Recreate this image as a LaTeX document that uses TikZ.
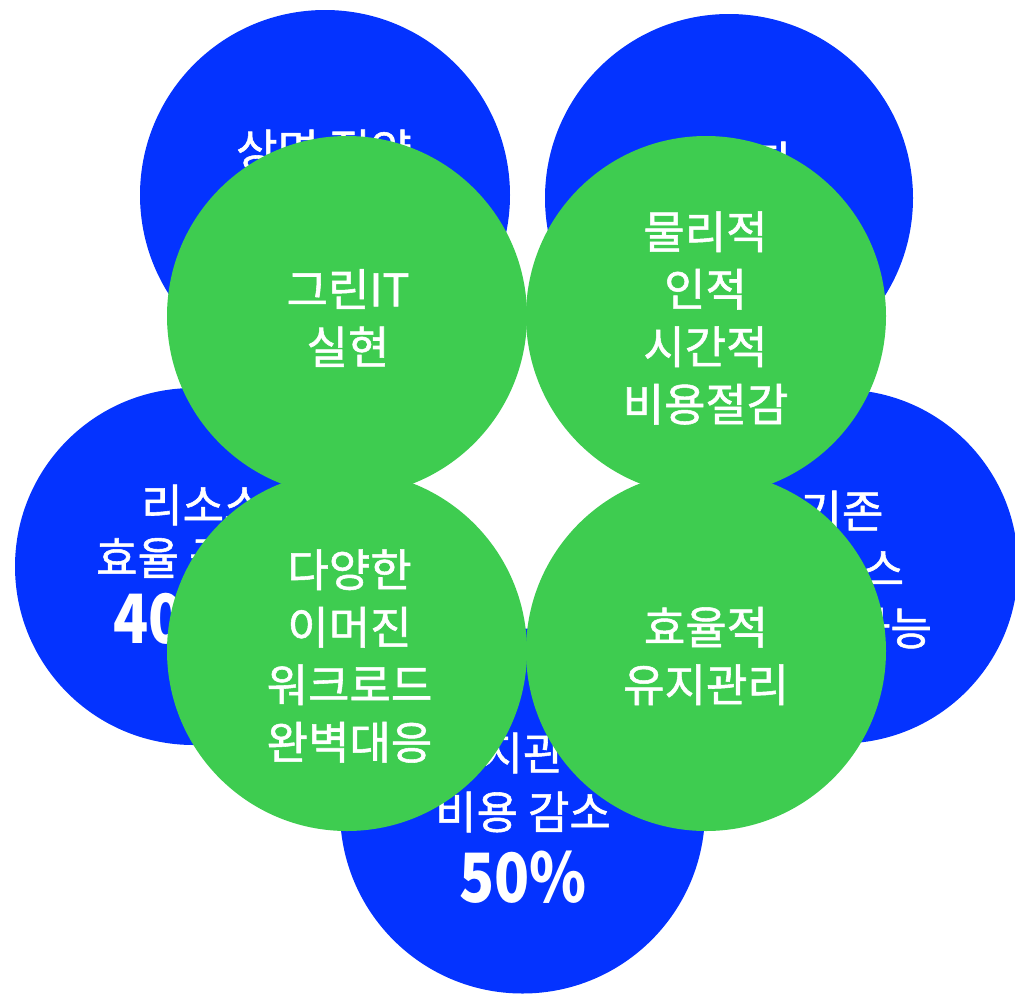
\documentclass[tikz,border=0pt]{standalone}
\usepackage{fontspec}
\setmainfont{Noto Sans CJK KR}
\newfontfamily\medfont{Noto Sans CJK KR}[FakeBold=1.2]
\newfontfamily\numfont{Noto Sans CJK KR}[FakeStretch=0.85]
\definecolor{bblue}{RGB}{4,51,255}
\definecolor{ggreen}{RGB}{62,204,80}
\begin{document}
\begin{tikzpicture}[x=1pt,y=-1pt,
  bcirc/.style={circle,fill=bblue,inner sep=0pt,outer sep=0pt},
  gcirc/.style={circle,fill=ggreen,inner sep=0pt,outer sep=0pt,minimum size=360pt},
  btxt/.style={text=white,inner sep=0pt,font=\medfont\fontsize{45}{45}\selectfont},
  bbig/.style={text=white,inner sep=0pt,font=\numfont\bfseries\fontsize{68}{68}\selectfont},
  gtxt/.style={text=white,inner sep=0pt,align=center,font=\medfont\fontsize{45}{57.5}\selectfont}]
\useasboundingbox (0,0) rectangle (1015,994);
\clip (0,0) rectangle (1015,994);
% blue circles
\node[bcirc,minimum size=370pt] (btl) at (325,195) {};
\node[bcirc,minimum size=368pt] (btr) at (729,198) {};
\node[bcirc,minimum size=357pt] (bl) at (193.5,566.5) {};
\node[bcirc,minimum size=354pt] (br) at (841,566.5) {};
\node[bcirc,minimum size=365pt] (bb) at (522.5,811) {};
% blue texts
\node[btxt] (tl1) at (324,150) {상면 절약};
\node[btxt] (tr1) at (729,162) {에너지};
\node[btxt,anchor=west] (l1) at (141,505) {리소스};
\node[btxt,anchor=west] (l2) at (96,558) {효율 극대};
\node[bbig,anchor=west] (l3) at (113,618) {40\%};
\node[btxt] (r1) at (842,511) {기존};
\node[btxt] (r2) at (842,569) {리소스};
\node[btxt] (r3) at (844,628) {활용 가능};
\node[btxt] (b1) at (523,753) {유지관리};
\node[btxt] (b2) at (523,812) {비용 감소};
\node[bbig] (b3) at (523,877) {50\%};
% green circles
\node[gcirc] (gtl) at (347,316) {};
\node[gcirc] (gtr) at (706,316) {};
\node[gcirc] (gbl) at (347,651) {};
\node[gcirc] (gbr) at (706,651) {};
% green texts
\node[gtxt] (tgtl) at (348,318) {그린IT\\실현};
\node[gtxt] (tgtr) at (705.5,318) {물리적\\인적\\시간적\\비용절감};
\node[gtxt] (tgbl) at (349.5,656) {다양한\\이머진\\워크로드\\완벽대응};
\node[gtxt] (tgbr) at (706,656) {효율적\\유지관리};
\end{tikzpicture}
\end{document}
